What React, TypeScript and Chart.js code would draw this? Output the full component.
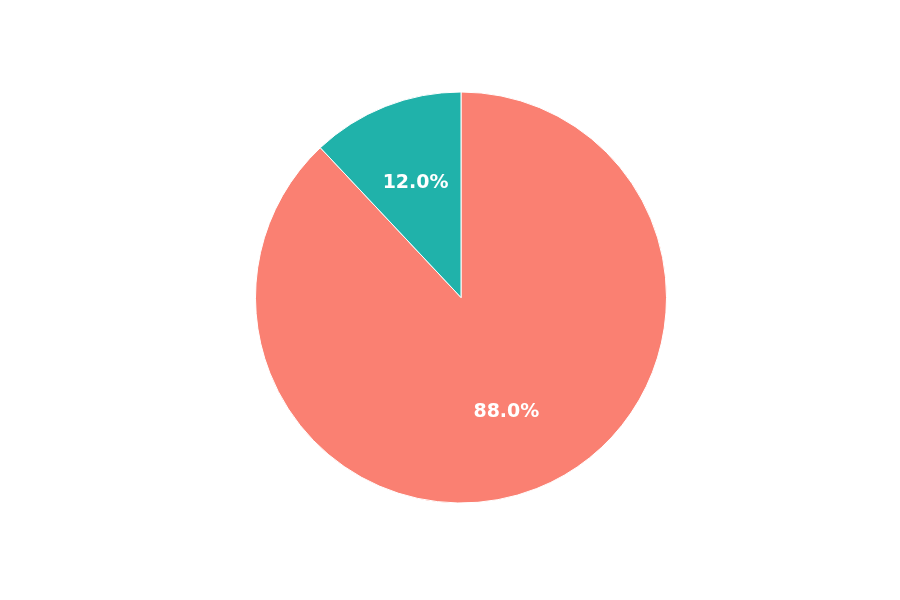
import React, { useEffect, useRef } from "react";
import { Chart, registerables } from "chart.js";

Chart.register(...registerables);

const categories = ["Majority", "Minority"];
const shares = [88.0, 12.0];
const sliceColors = ["#FA8072", "#20B2AA"];

// Writes each slice's percentage at 60% of the radius along its mid-angle
const sliceLabels = {
  id: "sliceLabels",
  afterDatasetsDraw(chart: any) {
    const ctx = chart.ctx;
    const meta = chart.getDatasetMeta(0);
    ctx.save();
    ctx.fillStyle = "#ffffff";
    ctx.font = "bold 19px 'DejaVu Sans', sans-serif";
    ctx.textAlign = "center";
    ctx.textBaseline = "middle";
    meta.data.forEach((arc: any, i: number) => {
      const { x, y, startAngle, endAngle, outerRadius } = arc.getProps(
        ["x", "y", "startAngle", "endAngle", "outerRadius"],
        true
      );
      const mid = (startAngle + endAngle) / 2;
      const r = outerRadius * 0.6;
      ctx.fillText(shares[i].toFixed(1) + "%", x + Math.cos(mid) * r, y + Math.sin(mid) * r);
    });
    ctx.restore();
  },
};

export default function App() {
  const canvasRef = useRef<HTMLCanvasElement | null>(null);

  useEffect(() => {
    if (!canvasRef.current) return;
    const chart = new Chart(canvasRef.current, {
      type: "pie",
      data: {
        labels: categories,
        datasets: [
          {
            data: shares,
            backgroundColor: sliceColors,
            borderColor: "#ffffff",
            borderWidth: 1,
          },
        ],
      },
      options: {
        responsive: false,
        animation: false,
        layout: { padding: { top: 91, bottom: 96, left: 255, right: 233 } },
        plugins: {
          legend: { display: false },
          tooltip: { enabled: false },
        },
      },
      plugins: [sliceLabels],
    });
    return () => chart.destroy();
  }, []);

  return (
    <div style={{ position: "fixed", left: 0, top: 0, width: 900, height: 600, background: "#ffffff" }}>
      <canvas ref={canvasRef} width={900} height={600} />
    </div>
  );
}
